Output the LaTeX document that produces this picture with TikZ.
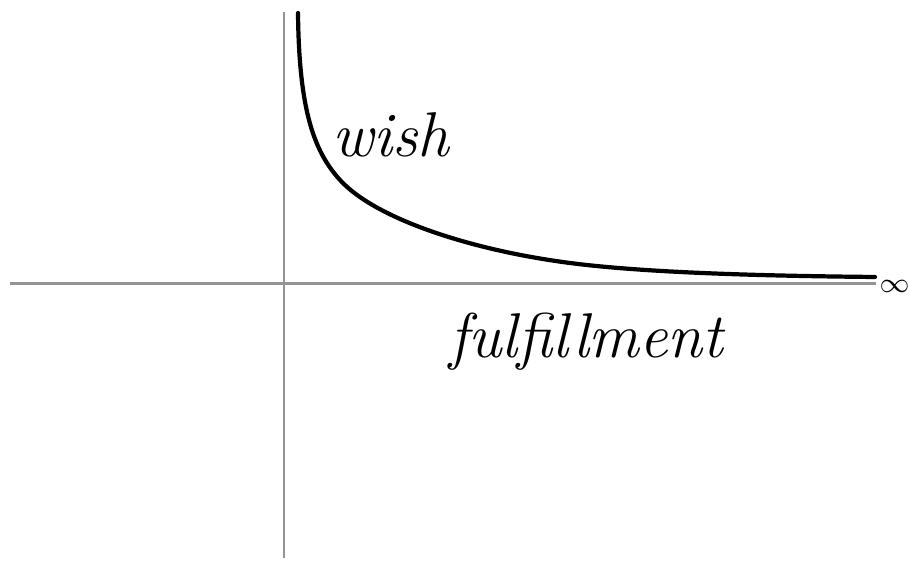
\documentclass[tikz,border=0pt]{standalone}
\usepackage{amsmath}
\usepackage{tikz}
\usetikzlibrary{positioning, calc}

\begin{document}
\begin{tikzpicture}[
    x=1cm, y=-1cm,
    axis/.style={draw=black!42, line width=0.85pt},
    curve/.style={draw=black, line width=1.2pt, line cap=round},
    label/.style={font=\fontsize{18}{21}\selectfont\itshape, inner sep=0pt}
]
\useasboundingbox (0,0) rectangle (9.10,5.61);

% axes
\coordinate (xl) at (0.10,2.84);
\coordinate (xr) at (8.76,2.84);
\coordinate (yt) at (2.84,0.12);
\coordinate (yb) at (2.84,5.58);
\draw[axis] (xl) -- (xr);
\draw[axis] (yt) -- (yb);

% wish curve
\coordinate (c0) at (2.98,0.13);
\coordinate (c1) at (3.40,1.80);
\coordinate (c2) at (5.70,2.63);
\coordinate (c3) at (8.75,2.77);
\draw[curve] (c0) .. controls (2.99,1.13) and (3.15,1.525) .. (c1)
    .. controls (3.75,2.185) and (4.70,2.50) .. (c2)
    .. controls (6.50,2.734) and (7.75,2.76) .. (c3);

% labels
\node[label, anchor=base] (wish) at (3.91,1.57) {wish};
\node[label, anchor=base] (ful) at (5.865,3.58) {fulfillment};
\node[font=\fontsize{8.5}{10}\selectfont, anchor=west, inner sep=0pt] (inf) at (8.79,2.86) {$\infty$};

\end{tikzpicture}
\end{document}
